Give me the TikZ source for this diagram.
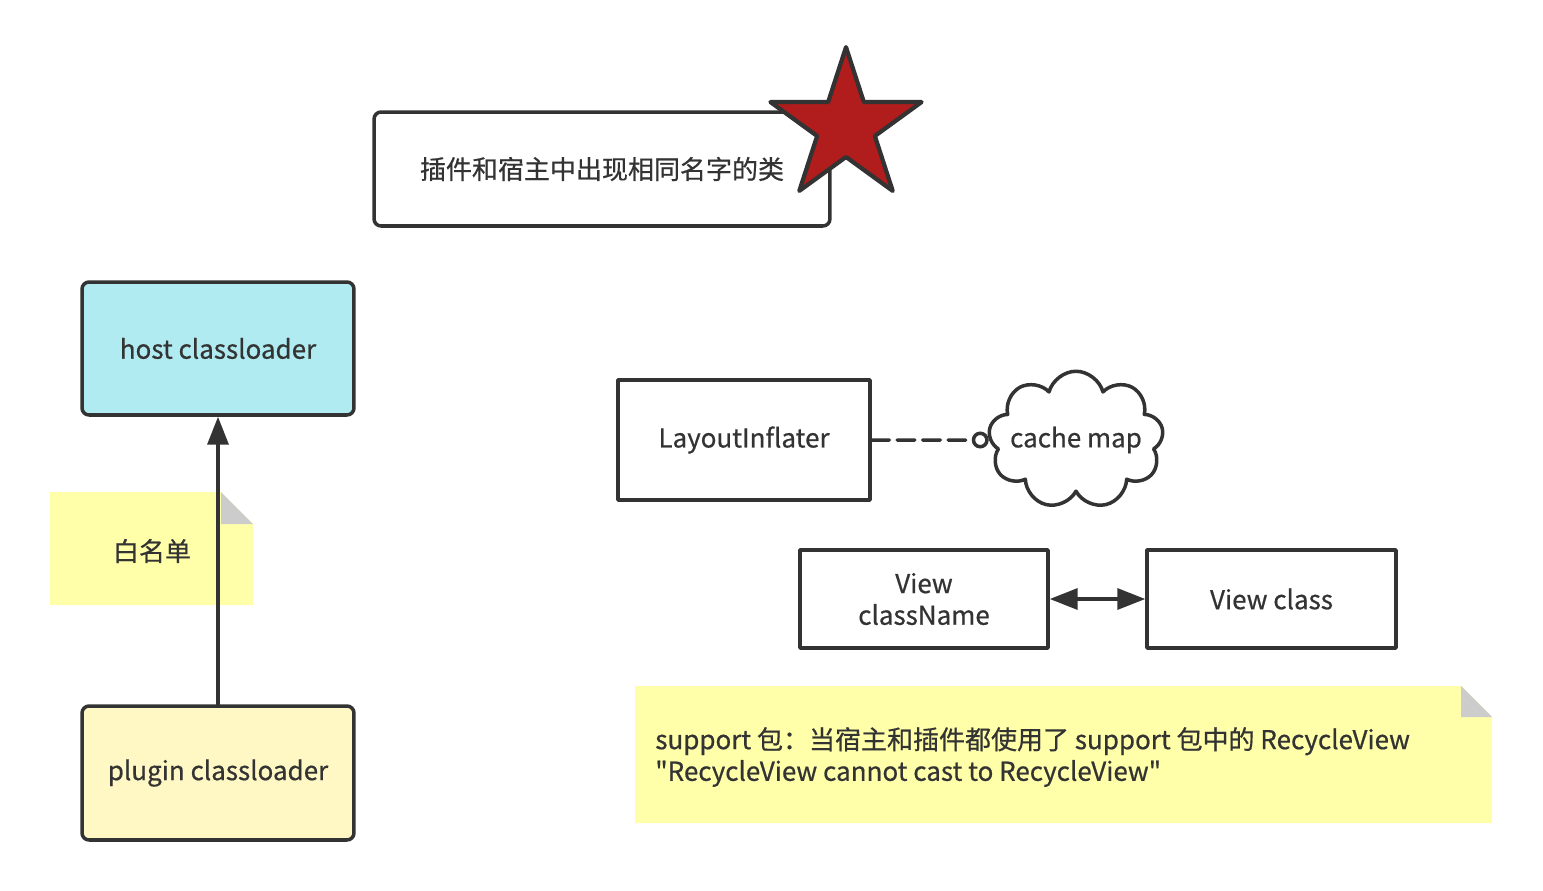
\documentclass[tikz,border=0pt]{standalone}
\usepackage{fontspec}
\newfontfamily\cjk{Noto Sans CJK SC}[FakeBold=0.6]
\usetikzlibrary{shapes.geometric,shapes.symbols,arrows.meta}
\definecolor{ink}{HTML}{333333}
\definecolor{hostfill}{HTML}{B1EBF2}
\definecolor{pluginfill}{HTML}{FFF8C5}
\definecolor{notefill}{HTML}{FFFFAA}
\definecolor{foldgray}{HTML}{CCCCCC}
\definecolor{starred}{HTML}{B11C1C}
\begin{document}
\begin{tikzpicture}[x=0.02cm, y=-0.02cm, line cap=round, line join=round,
	font=\cjk\fontsize{14.8}{18}\selectfont,
	>={Triangle[length=0.56cm, width=0.42cm]},
	box/.style={draw=ink, line width=2pt, text=ink, inner sep=0pt},
	roundbox/.style={box, rounded corners=4pt}]
	\useasboundingbox (0,0) rectangle (1543,890);
	% title with star
	\node[roundbox, minimum width=9.12cm, minimum height=2.28cm] (title) at (602,169) {插件和宿主中出现相同名字的类};
	\node[star, star points=5, star point ratio=2.618, minimum size=3.18cm, inner sep=0pt,
		draw=ink, fill=starred, line width=2.4pt] (mark) at (846,126.6) {};
	% class loaders
	\node[roundbox, fill=hostfill, minimum width=5.44cm, minimum height=2.66cm] (host) at (218,348.5) {host classloader};
	\node[roundbox, fill=pluginfill, minimum width=5.44cm, minimum height=2.68cm] (plugin) at (218,773) {plugin classloader};
	% notes
	\coordinate (W1) at (50,492);
	\coordinate (W2) at (221,492);
	\coordinate (W3) at (253,524);
	\coordinate (W4) at (253,605);
	\coordinate (W5) at (50,605);
	\fill[notefill] (W1)--(W2)--(W3)--(W4)--(W5)--cycle;
	\fill[foldgray] (W2)--(221,524)--(W3)--cycle;
	\node[text=ink] (white) at (152,551) {白名单};
	\coordinate (S1) at (635,686);
	\coordinate (S2) at (1461,686);
	\coordinate (S3) at (1492,717);
	\coordinate (S4) at (1492,823);
	\coordinate (S5) at (635,823);
	\fill[notefill] (S1)--(S2)--(S3)--(S4)--(S5)--cycle;
	\fill[foldgray] (S2)--(1461,717)--(S3)--cycle;
	\node[text=ink, anchor=west, align=left, inner sep=0pt] (support) at (655,757)
		{support 包：当宿主和插件都使用了 support 包中的 RecycleView\\"RecycleView cannot cast to RecycleView"};
	\draw[->, draw=ink, fill=ink, line width=2pt] (plugin) -- (host);
	% inflater side
	\node[box, minimum width=5.04cm, minimum height=2.4cm] (inflater) at (744,440) {LayoutInflater};
	\node[cloud, cloud puffs=9, draw=ink, line width=2pt,
		minimum width=3.5cm, minimum height=2.75cm, inner sep=0pt] (cache) at (1076,440) {};
	\node[text=ink] (cachetext) at (cache.center) {cache map};
	\draw[dash pattern=on 10pt off 4.5pt, draw=ink, line width=2pt,
		-{Circle[open, length=0.34cm, width=0.34cm, fill=white]}] (inflater) -- (cache);
	\node[box, minimum width=4.96cm, minimum height=1.96cm, align=center] (vname) at (924,599) {View\\className};
	\node[box, minimum width=4.98cm, minimum height=1.96cm] (vclass) at (1271.5,599) {View class};
	\draw[<->, draw=ink, fill=ink, line width=2pt] (vname) -- (vclass);
\end{tikzpicture}
\end{document}
